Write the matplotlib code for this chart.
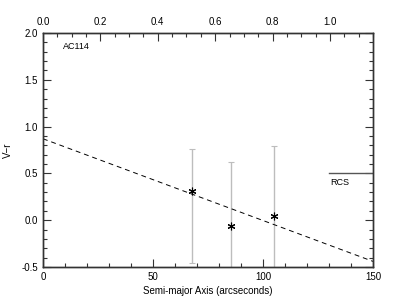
import numpy as np
import matplotlib.pyplot as plt
from matplotlib.ticker import MultipleLocator

plt.rcParams["font.family"] = ["Liberation Sans", "DejaVu Sans"]
plt.rcParams["font.size"] = 7

# measured points
semi_major = [67.5, 85.5, 104.8]
v_r = [0.31, -0.065, 0.04]
err_low = [0.77, 0.70, 0.75]
err_high = [0.45, 0.685, 0.75]

# linear fit endpoints
fit_x = [0, 150]
fit_y = [0.87, -0.44]

# RCS reference level
rcs_x = [130, 150]
rcs_y = [0.5, 0.5]

top_max = 1.15  # top axis value at x=150

fig = plt.figure(figsize=(3.97, 3.03), dpi=100)
ax = fig.add_axes([43 / 397, 1 - 267 / 303, 330 / 397, 234 / 303])

GRAY = "#bdbdbd"
ax.errorbar(semi_major, v_r, yerr=[err_low, err_high], fmt="none",
            ecolor=GRAY, elinewidth=1.0, capsize=2, capthick=0.8)
ax.plot(semi_major, v_r, ls="none", marker=(6, 2, 0), ms=5.5, mew=0.8, color="k")
ax.plot(fit_x, fit_y, color="k", ls=(0, (5, 4)), lw=0.7)
ax.plot(rcs_x, rcs_y, color="#555555", lw=1.0)
ax.text(130.5, 0.45, "RCS", ha="left", va="top", fontsize=6.5)
ax.text(9, 1.86, "AC114", ha="left", va="center", fontsize=6.5)

ax.set_xlim(0, 150)
ax.set_ylim(-0.5, 2.0)
ax.xaxis.set_major_locator(MultipleLocator(50))
ax.xaxis.set_minor_locator(MultipleLocator(10))
ax.yaxis.set_major_locator(MultipleLocator(0.5))
ax.yaxis.set_minor_locator(MultipleLocator(0.1))
ax.yaxis.set_major_formatter(plt.FormatStrFormatter("%.1f"))
ax.tick_params(which="both", direction="in", right=True, labelsize=7,
               width=0.8, color="#333333")
ax.tick_params(which="major", length=6)
ax.tick_params(which="minor", length=3)
ax.set_xlabel("Semi-major Axis (arcseconds)", fontsize=7, labelpad=3)
ax.set_ylabel("V\u2212r", fontsize=7, labelpad=6)

ax2 = ax.twiny()
ax2.set_xlim(0, top_max)
ax2.xaxis.set_major_locator(MultipleLocator(0.2))
ax2.xaxis.set_minor_locator(MultipleLocator(0.05))
ax2.xaxis.set_major_formatter(plt.FormatStrFormatter("%.1f"))
ax2.tick_params(which="both", direction="in", labelsize=7, width=0.8,
                color="#333333", pad=4)
ax2.tick_params(which="major", length=6)
ax2.tick_params(which="minor", length=3)

for a in (ax, ax2):
    for s in a.spines.values():
        s.set_linewidth(1.0)
        s.set_color("#333333")

fig.savefig("out.png", dpi=100)
